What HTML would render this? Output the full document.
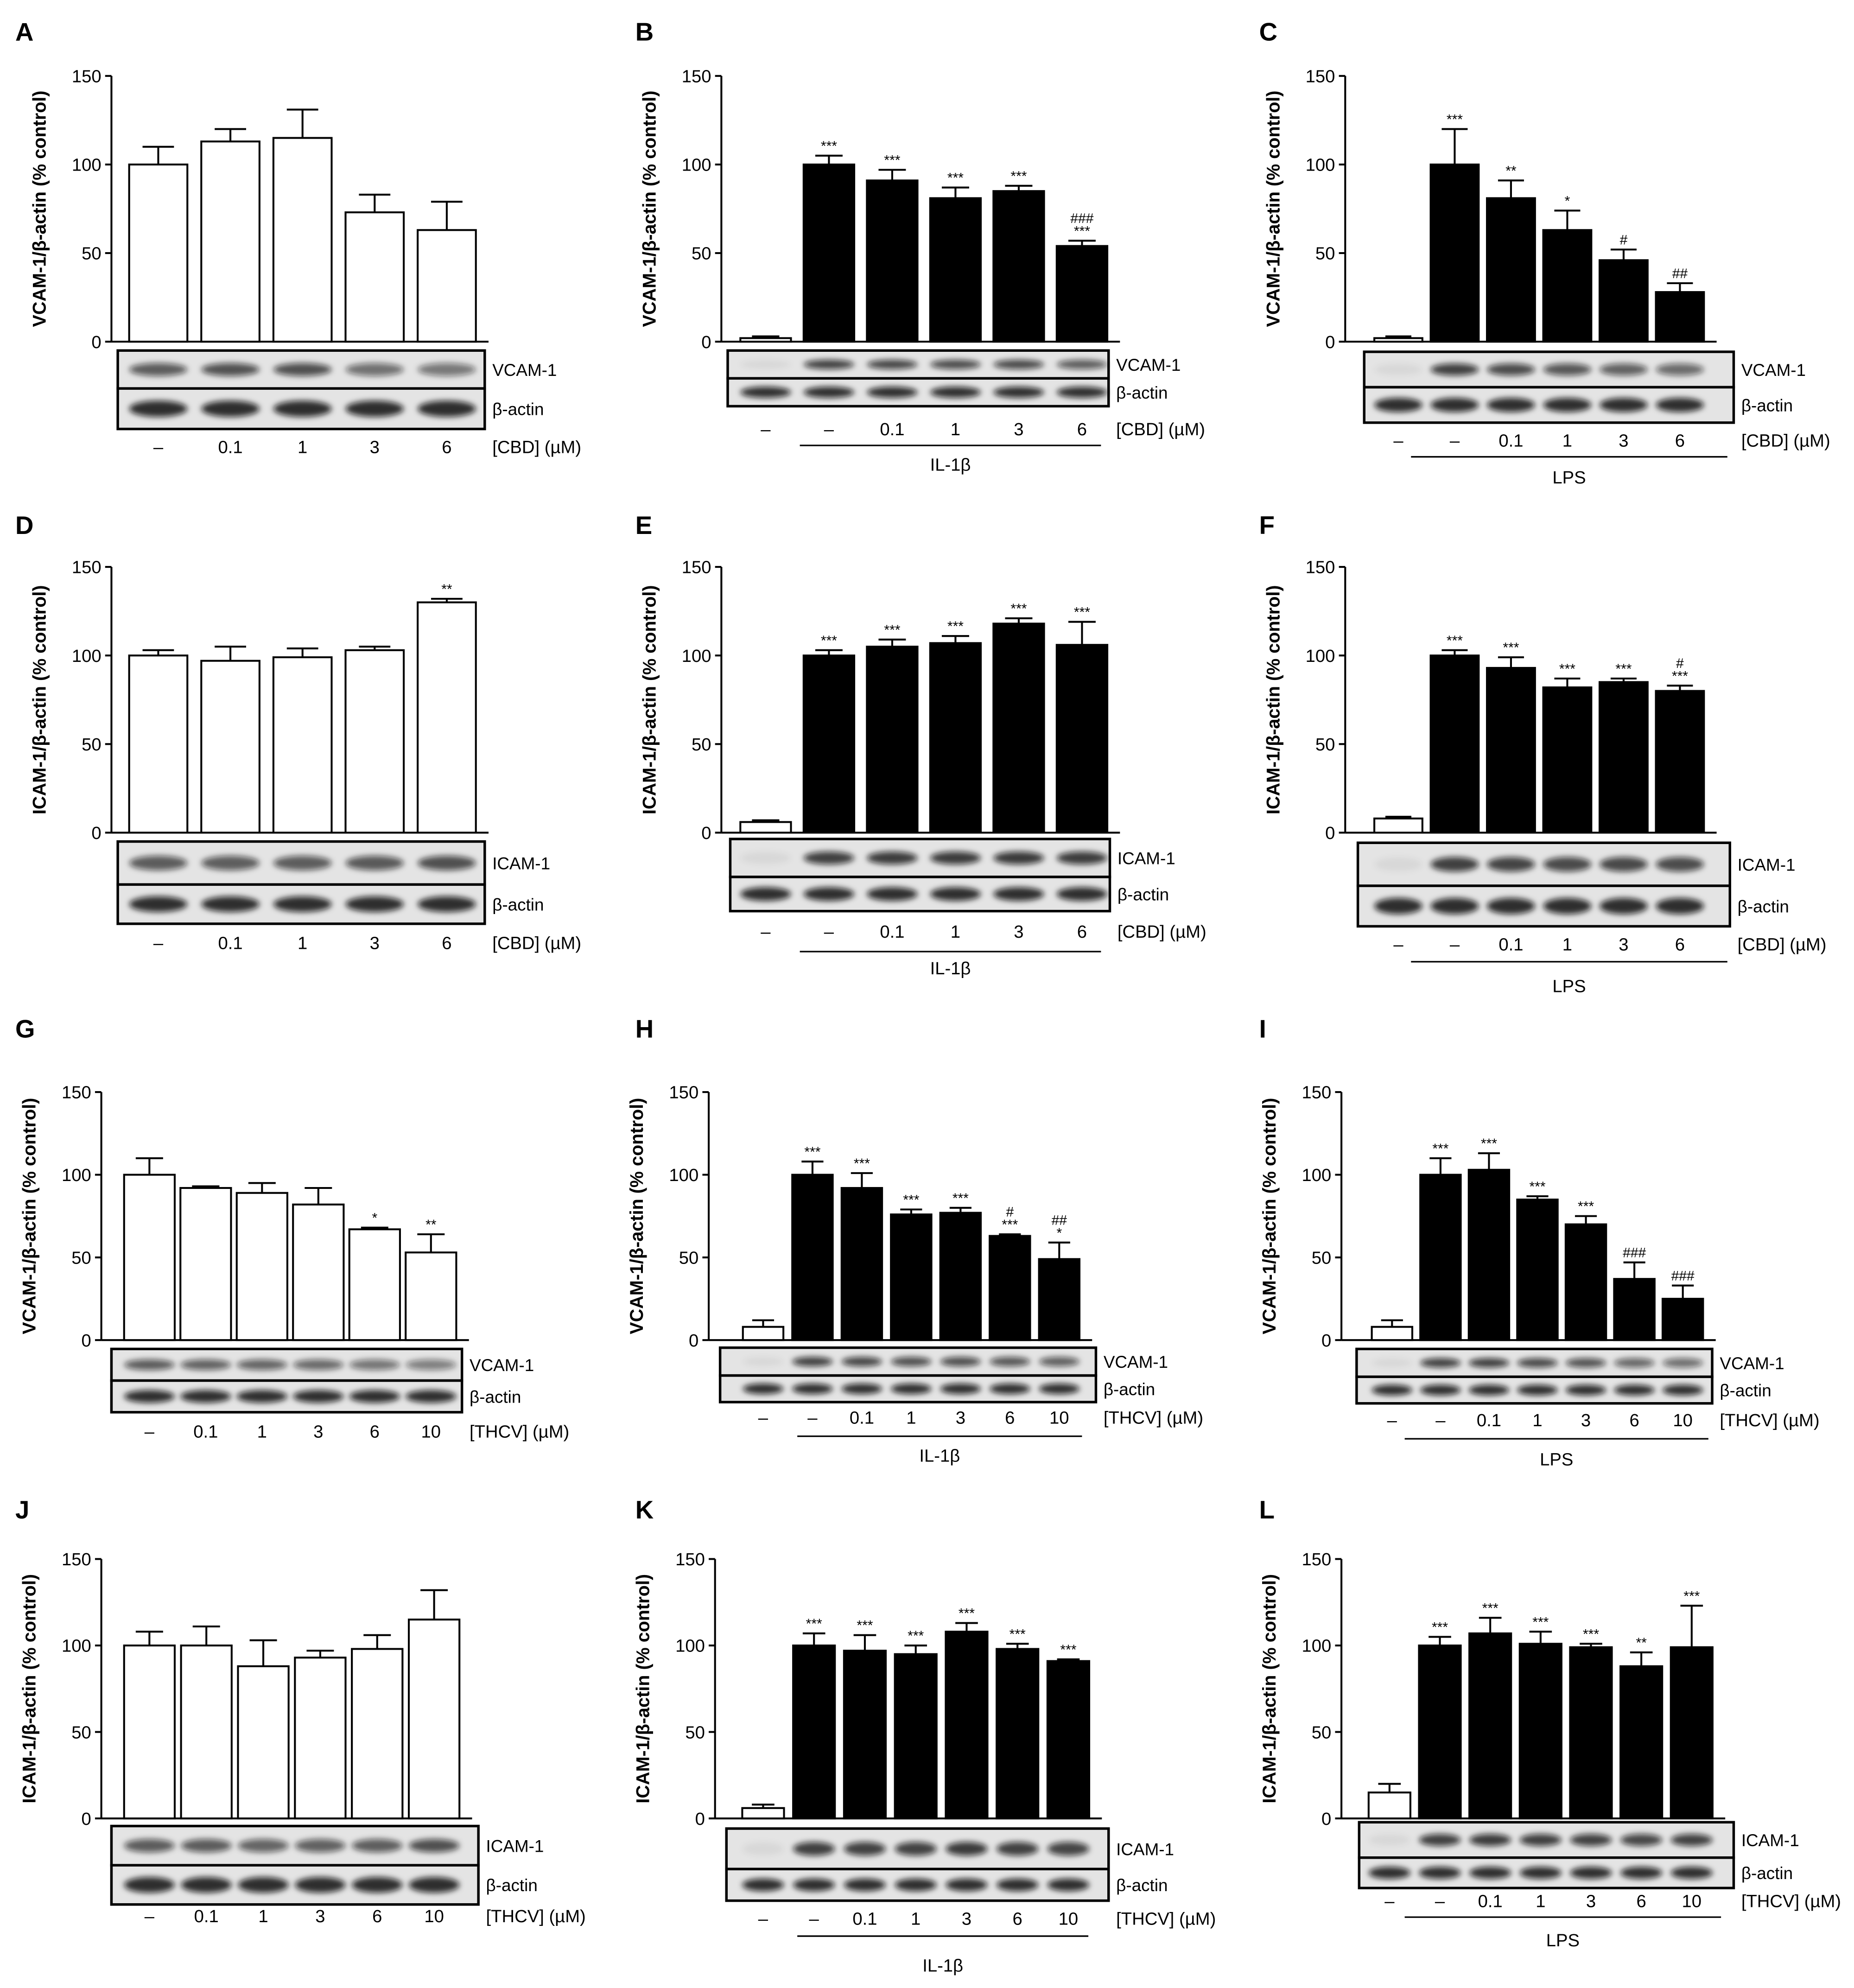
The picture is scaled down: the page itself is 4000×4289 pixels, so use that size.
<!DOCTYPE html>
<html><head><meta charset="utf-8"><style>
html,body{margin:0;padding:0;background:#fff}
svg{display:block}
text{font-family:"Liberation Sans",sans-serif}
</style></head><body>
<svg id="fig" xmlns="http://www.w3.org/2000/svg" width="4000" height="4289" viewBox="0 0 1465 1571">
<defs><filter id="bl" x="-50%" y="-100%" width="200%" height="300%"><feGaussianBlur stdDeviation="2.2"/></filter></defs>
</svg>
<script>
// ---- data ----
const valsA=[100,113,115,73,63], errA=[10,7,16,10,16];
const valsB=[2,100,91,81,85,54], errB=[1,5,6,6,3,3];
const valsC=[2,100,81,63,46,28], errC=[1,20,10,11,6,5];
const valsD=[100,97,99,103,130], errD=[3,8,5,2,2];
const valsE=[6,100,105,107,118,106], errE=[1,3,4,4,3,13];
const valsF=[8,100,93,82,85,80], errF=[1,3,6,5,2,3];
const valsG=[100,92,89,82,67,53], errG=[10,1,6,10,1,11];
const valsH=[8,100,92,76,77,63,49], errH=[4,8,9,3,3,1,10];
const valsI=[8,100,103,85,70,37,25], errI=[4,10,10,2,5,10,8];
const valsJ=[100,100,88,93,98,115], errJ=[8,11,15,4,8,17];
const valsK=[6,100,97,95,108,98,91], errK=[2,7,9,5,5,3,1];
const valsL=[15,100,107,101,99,88,99], errL=[5,5,9,7,2,8,24];
const annA=["","","","",""];
const annB=["","***","***","***","***","###|***"];
const annC=["","***","**","*","#","##"];
const annD=["","","","","**"];
const annE=["","***","***","***","***","***"];
const annF=["","***","***","***","***","#|***"];
const annG=["","","","","*","**"];
const annH=["","***","***","***","***","#|***","##|*"];
const annI=["","***","***","***","***","###","###"];
const annJ=["","","","","",""];
const annK=["","***","***","***","***","***","***"];
const annL=["","***","***","***","***","**","***"];
const cbd5=["–","0.1","1","3","6"], cbd6=["–","–","0.1","1","3","6"];
const thc6=["–","0.1","1","3","6","10"], thc7=["–","–","0.1","1","3","6","10"];
const yTicks=[0,50,100,150];

const NS="http://www.w3.org/2000/svg";
const svg=document.getElementById('fig');
function el(t,a,p){const e=document.createElementNS(NS,t);for(const k in a)e.setAttribute(k,a[k]);(p||svg).appendChild(e);return e;}
function tx(x,y,s,a,p){const e=el('text',a,p);e.setAttribute('x',x);e.setAttribute('y',y);e.textContent=s;return e;}

const panels=[
 {L:"A",lx:12,ly:32,ax:88,y0:270,y1:60,c0:125,st:57,bw:46,v:valsA,e:errA,an:annA,open:5,prot:"VCAM",blot:[93,277,290,30,32],lab:cbd5,unit:"[CBD] (µM)",labY:358},
 {L:"B",lx:502,ly:32,ax:570,y0:270,y1:60,c0:605,st:50,bw:40,v:valsB,e:errB,an:annB,open:1,prot:"VCAM",blot:[575,277,301,22,22],lab:cbd6,unit:"[CBD] (µM)",labY:344,line:[632,870,352],stim:"IL-1β",stimY:372},
 {L:"C",lx:995,ly:32,ax:1063,y0:270,y1:60,c0:1105,st:44.5,bw:38,v:valsC,e:errC,an:annC,open:1,prot:"VCAM",blot:[1078,278,292,28,28],lab:cbd6,unit:"[CBD] (µM)",labY:353,line:[1115,1365,361],stim:"LPS",stimY:382},
 {L:"D",lx:12,ly:422,ax:88,y0:658,y1:448,c0:125,st:57,bw:46,v:valsD,e:errD,an:annD,open:5,prot:"ICAM",blot:[93,665,290,34,31],lab:cbd5,unit:"[CBD] (µM)",labY:750},
 {L:"E",lx:502,ly:422,ax:570,y0:658,y1:448,c0:605,st:50,bw:40,v:valsE,e:errE,an:annE,open:1,prot:"ICAM",blot:[577,663,300,30,27],lab:cbd6,unit:"[CBD] (µM)",labY:741,line:[632,870,752],stim:"IL-1β",stimY:770},
 {L:"F",lx:995,ly:422,ax:1063,y0:658,y1:448,c0:1105,st:44.5,bw:38,v:valsF,e:errF,an:annF,open:1,prot:"ICAM",blot:[1073,666,294,34,32],lab:cbd6,unit:"[CBD] (µM)",labY:751,line:[1115,1365,760],stim:"LPS",stimY:784},
 {L:"G",lx:12,ly:820,ax:80,y0:1059,y1:863,c0:118,st:44.5,bw:40,v:valsG,e:errG,an:annG,open:6,prot:"VCAM",blot:[88,1066,277,25,25],lab:thc6,unit:"[THCV] (µM)",labY:1136},
 {L:"H",lx:502,ly:820,ax:560,y0:1059,y1:863,c0:603,st:39,bw:32,v:valsH,e:errH,an:annH,open:1,prot:"VCAM",blot:[569,1065,297,22,21],lab:thc7,unit:"[THCV] (µM)",labY:1125,line:[630,855,1135],stim:"IL-1β",stimY:1155},
 {L:"I",lx:995,ly:820,ax:1060,y0:1059,y1:863,c0:1100,st:38.3,bw:32,v:valsI,e:errI,an:annI,open:1,prot:"VCAM",blot:[1072,1066,281,22,21],lab:thc7,unit:"[THCV] (µM)",labY:1127,line:[1110,1350,1137],stim:"LPS",stimY:1158},
 {L:"J",lx:12,ly:1200,ax:80,y0:1437,y1:1232,c0:118,st:45,bw:40,v:valsJ,e:errJ,an:annJ,open:6,prot:"ICAM",blot:[88,1443,290,31,31],lab:thc6,unit:"[THCV] (µM)",labY:1519},
 {L:"K",lx:502,ly:1200,ax:565,y0:1437,y1:1232,c0:603,st:40.2,bw:33,v:valsK,e:errK,an:annK,open:1,prot:"ICAM",blot:[574,1445,302,32,25],lab:thc7,unit:"[THCV] (µM)",labY:1521,line:[630,860,1530],stim:"IL-1β",stimY:1558},
 {L:"L",lx:995,ly:1200,ax:1060,y0:1437,y1:1232,c0:1098,st:39.8,bw:33,v:valsL,e:errL,an:annL,open:1,prot:"ICAM",blot:[1074,1440,296,28,24],lab:thc7,unit:"[THCV] (µM)",labY:1507,line:[1110,1360,1515],stim:"LPS",stimY:1538}
];

panels.forEach(P=>{
 const g=el('g',{});
 
 
 const ys=v=>P.y0-(v/150)*(P.y0-P.y1);
 const xs=i=>P.c0+i*P.st;
 const n=P.v.length;
 const lt=tx(P.lx,P.ly,P.L,{'font-size':20,'font-weight':'bold'},g);
 
 // axis
 const ya=el('line',{x1:P.ax,x2:P.ax,y1:P.y0,y2:P.y1,stroke:'#000','stroke-width':1.5},g);
 
 const xend=xs(n-1)+P.bw/2+10;
 const xa=el('line',{x1:P.ax,x2:xend,y1:P.y0,y2:P.y0,stroke:'#000','stroke-width':1.5},g);
 
 yTicks.forEach(t=>{
  const tl=el('line',{x1:P.ax-5,x2:P.ax,y1:ys(t),y2:ys(t),stroke:'#000','stroke-width':1.5},g);
  
  const tt=tx(P.ax-8,ys(t)+5,t,{'font-size':14,'text-anchor':'end'},g);
  
 });
 const ym=(P.y0+P.y1)/2;
 const yt=tx(P.ax-52,ym,(P.prot==="VCAM"?"VCAM-1":"ICAM-1")+"/β-actin (% control)",{'font-size':14.5,'font-weight':'bold','text-anchor':'middle',transform:`rotate(-90 ${P.ax-52} ${ym})`},g);
 
 // bars
 for(let i=0;i<n;i++){
  const x=xs(i), top=ys(P.v[i]), et=ys(P.v[i]+P.e[i]);
  const isOpen=i<P.open;
  const eb=el('line',{x1:x,x2:x,y1:top,y2:et,stroke:'#000','stroke-width':1.5},g);
  
  const ec=el('line',{x1:x-P.bw*0.27,x2:x+P.bw*0.27,y1:et,y2:et,stroke:'#000','stroke-width':1.5},g);
  
  const b=el('rect',{x:x-P.bw/2,y:top,width:P.bw,height:P.y0-top,fill:isOpen?'#fff':'#000',stroke:'#000','stroke-width':1.5},g);
  
  if(P.an[i]){
   const parts=P.an[i].split('|').reverse();
   parts.forEach((s,k)=>{
    const a=tx(x,et-4-k*10,s,{'font-size':11,'text-anchor':'middle'},g);
    
   });
  }
 }
 // blot
 const [bx,by,bw,h1,h2]=P.blot;
 [[by,h1,P.prot==="VCAM"?"VCAM-1":"ICAM-1",0],[by+h1,h2,"β-actin",1]].forEach(([sy,sh,name,k])=>{
  const r=el('rect',{x:bx,y:sy,width:bw,height:sh,fill:'#e4e4e4',stroke:'#000','stroke-width':2},g);
  
  for(let i=0;i<n;i++){
   let op;
   if(k) op=0.85; else { op=i<P.open&&P.open<n? (P.open===1?0.05:0.5) : 0.5+0.3*Math.min(1,P.v[i]/110); if(P.open>1) op=0.3+0.4*Math.min(1,P.v[i]/115); }
   const band=el('ellipse',{cx:xs(i),cy:sy+sh*0.5,rx:P.bw*0.5,ry:sh*(k?0.2:0.17),fill:'#111','fill-opacity':op,filter:'url(#bl)'},g);
   
  }
  const bt=tx(bx+bw+6,sy+sh/2+5,name,{'font-size':13.5},g);
  
 });
 for(let i=0;i<n;i++){
  const l=tx(xs(i),P.labY,P.lab[i],{'font-size':14,'text-anchor':'middle'},g);
  
 }
 const u=tx(bx+bw+6,P.labY,P.unit,{'font-size':14},g);
 
 if(P.line){
  const sl=el('line',{x1:P.line[0],x2:P.line[1],y1:P.line[2],y2:P.line[2],stroke:'#000','stroke-width':1.2},g);
  
  const st=tx((P.line[0]+P.line[1])/2,P.stimY,P.stim,{'font-size':14,'text-anchor':'middle'},g);
  
 }
});
</script>
</body></html>
